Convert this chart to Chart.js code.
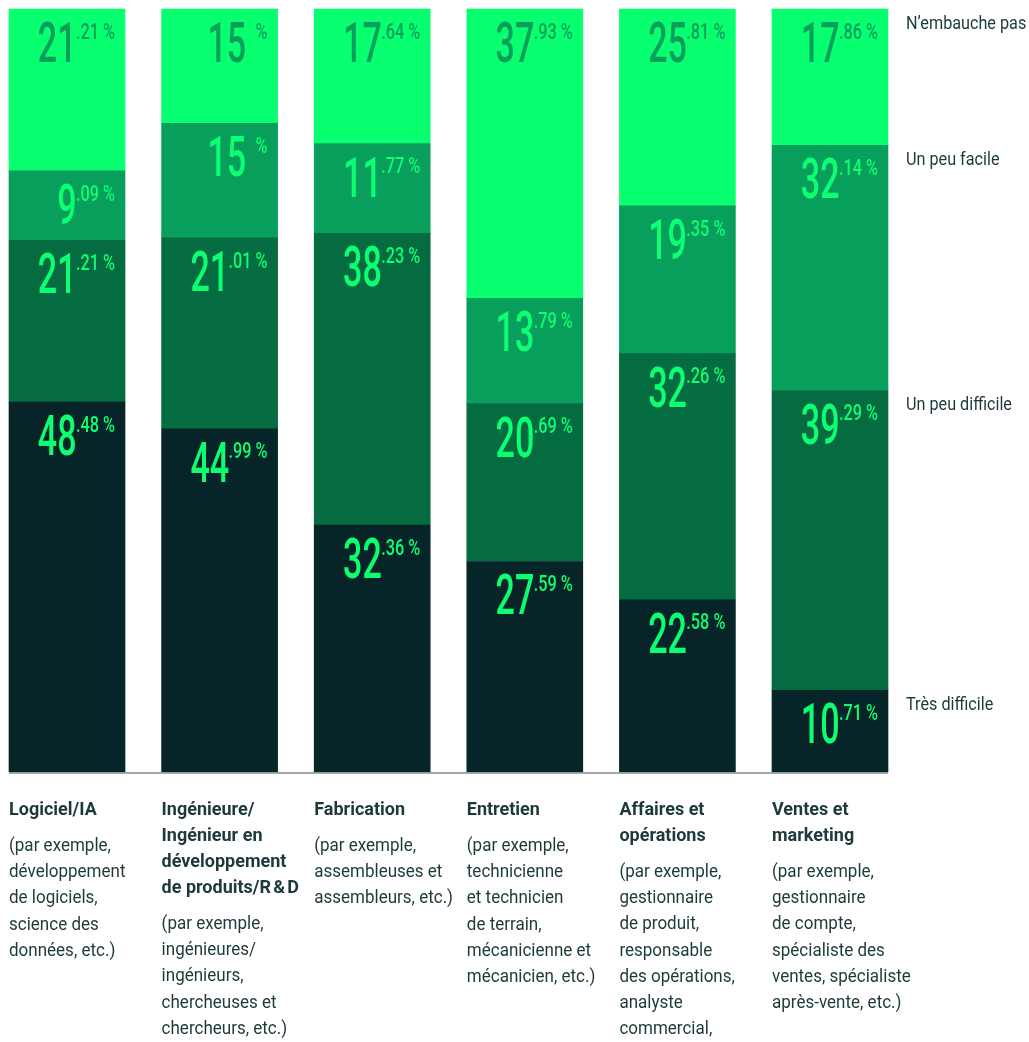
<!DOCTYPE html>
<html lang="fr">
<head>
<meta charset="utf-8">
<title>Difficulté d'embauche par secteur</title>
<script src="https://cdn.jsdelivr.net/npm/chart.js@4/dist/chart.umd.min.js"></script>
<style>
  html, body { margin: 0; padding: 0; background: #ffffff; }
  #boite { width: 1029px; height: 1042px; position: relative; }
</style>
</head>
<body>
<div id="boite"><canvas id="graphique"></canvas></div>
<script>
// catégories (titre en gras + description, déjà coupés en lignes)
const categories = ['Logiciel/IA', 'Ingénierie/R&D', 'Fabrication', 'Entretien', 'Affaires et opérations', 'Ventes et marketing'];
const titres = [
    ['Logiciel/IA'],
    ['Ingénieure/', 'Ingénieur en', 'développement', 'de produits/R\u202F&\u202FD'],
    ['Fabrication'],
    ['Entretien'],
    ['Affaires et', 'opérations'],
    ['Ventes et', 'marketing']
];
const descriptions = [
    ['(par exemple,', 'développement', 'de logiciels,', 'science des', 'données, etc.)'],
    ['(par exemple,', 'ingénieures/', 'ingénieurs,', 'chercheuses et', 'chercheurs, etc.)'],
    ['(par exemple,', 'assembleuses et', 'assembleurs, etc.)'],
    ['(par exemple,', 'technicienne', 'et technicien', 'de terrain,', 'mécanicienne et', 'mécanicien, etc.)'],
    ['(par exemple,', 'gestionnaire', 'de produit,', 'responsable', 'des opérations,', 'analyste', 'commercial,'],
    ['(par exemple,', 'gestionnaire', 'de compte,', 'spécialiste des', 'ventes, spécialiste', 'après-vente, etc.)']
];

// séries (en %), du bas vers le haut
const tresDifficile  = [48.48, 44.99, 32.36, 27.59, 22.58, 10.71];
const unPeuDifficile = [21.21, 25.01, 38.23, 20.69, 32.26, 39.29]; // hauteur dessinée
const unPeuDifficileTexte = [21.21, 21.01, 38.23, 20.69, 32.26, 39.29]; // valeur imprimée sur l'original
const unPeuFacile    = [9.09, 15, 11.77, 13.79, 19.35, 32.14];
const nEmbauchePas   = [21.21, 15, 17.64, 37.93, 25.81, 17.86];

const nomsSeries = ['Très difficile', 'Un peu difficile', 'Un peu facile', 'N\u2019embauche pas'];
const couleurs = ['#072528', '#046c40', '#089e5c', '#08ff6f'];
const couleursTexte = ['#0cff72', '#0cff72', '#0cff72', '#089e5c'];

const sombre = '#1d3939';

// dessine "48" en grand + ".48 %" en exposant, aligné à droite
function dessinerValeur(ctx, valeur, droite, haut, couleur) {
    const ent = Math.floor(valeur + 1e-9);
    const dec = Math.round((valeur - ent) * 100);
    const sup = dec > 0 ? '.' + String(dec).padStart(2, '0') + ' %' : '%';
    ctx.save();
    ctx.fillStyle = couleur;
    ctx.textAlign = 'right';
    ctx.textBaseline = 'alphabetic';

    // exposant
    ctx.save();
    ctx.translate(droite, haut);
    ctx.scale(0.74, 1);
    ctx.font = '500 22px Roboto';
    const wSup = ctx.measureText(sup).width * 0.74;
    ctx.fillText(sup, 0, 15.6);
    ctx.restore();

    // partie entière
    const ecart = dec > 0 ? 0 : 10;
    ctx.save();
    ctx.translate(droite - wSup - ecart, haut);
    ctx.scale(0.62, 1);
    ctx.font = '500 55px Roboto';
    ctx.fillText(String(ent), 1, 39);
    ctx.restore();

    ctx.restore();
}

const pluginEtiquettes = {
    id: 'etiquettes',
    afterDatasetsDraw(chart) {
        const ctx = chart.ctx;
        chart.data.datasets.forEach((ds, i) => {
            const meta = chart.getDatasetMeta(i);
            meta.data.forEach((barre, j) => {
                const p = barre.getProps(['x', 'y', 'base', 'width'], true);
                const haut = Math.min(p.y, p.base);
                const v = ds.texte ? ds.texte[j] : ds.data[j];
                dessinerValeur(ctx, v, p.x + p.width / 2 - 10, haut + 14, couleursTexte[i]);
            });
        });

        // ligne de base
        const m0 = chart.getDatasetMeta(0).data;
        const premier = m0[0].getProps(['x', 'width'], true);
        const dernier = m0[m0.length - 1].getProps(['x', 'width'], true);
        const yBas = chart.scales.y.getPixelForValue(0);
        ctx.save();
        ctx.strokeStyle = '#7d8f8f';
        ctx.lineWidth = 1.5;
        ctx.beginPath();
        ctx.moveTo(premier.x - premier.width / 2, yBas + 1);
        ctx.lineTo(dernier.x + dernier.width / 2, yBas + 1);
        ctx.stroke();
        ctx.restore();

        // légende à droite, alignée sur la dernière barre
        ctx.save();
        ctx.fillStyle = sombre;
        ctx.textBaseline = 'middle';
        ctx.textAlign = 'left';
        chart.data.datasets.forEach((ds, i) => {
            const el = chart.getDatasetMeta(i).data[m0.length - 1];
            const p = el.getProps(['x', 'y', 'base', 'width'], true);
            const haut = Math.min(p.y, p.base);
            ctx.save();
            ctx.translate(p.x + p.width / 2 + 18, haut + 15);
            ctx.scale(0.9, 1);
            ctx.font = '400 18px Roboto';
            ctx.fillText(ds.label, 0, 0);
            ctx.restore();
        });
        ctx.restore();

        // libellés des catégories sous les barres
        ctx.save();
        ctx.fillStyle = sombre;
        ctx.textBaseline = 'middle';
        ctx.textAlign = 'left';
        m0.forEach((barre, j) => {
            const p = barre.getProps(['x', 'width'], true);
            const gauche = p.x - p.width / 2;
            let y = 810;
            ctx.save();
            ctx.translate(gauche, 0);
            ctx.font = '700 18px Roboto';
            titres[j].forEach((l, k) => {
                ctx.fillText(l, 0, y);
                if (k < titres[j].length - 1) y += 26;
            });
            y += 36.5;
            ctx.scale(0.945, 1);
            ctx.font = '400 18px Roboto';
            descriptions[j].forEach(l => {
                ctx.fillText(l, 0, y);
                y += 26.2;
            });
            ctx.restore();
        });
        ctx.restore();
    }
};

const series = [tresDifficile, unPeuDifficile, unPeuFacile, nEmbauchePas];

const config = {
    type: 'bar',
    data: {
        labels: categories,
        datasets: series.map((d, i) => ({
            label: nomsSeries[i],
            data: d,
            texte: i === 1 ? unPeuDifficileTexte : null,
            backgroundColor: couleurs[i],
            borderWidth: 0,
            barThickness: 116,
            clip: false
        }))
    },
    options: {
        responsive: true,
        maintainAspectRatio: false,
        animation: false,
        layout: {
            padding: { left: 67, right: 199, top: 9, bottom: 270 }
        },
        scales: {
            x: { stacked: true, display: false, offset: false },
            y: { stacked: true, display: false, min: 0, max: 100 }
        },
        plugins: {
            legend: { display: false },
            tooltip: { enabled: false }
        }
    },
    plugins: [pluginEtiquettes]
};

document.addEventListener('DOMContentLoaded', function() {
    const ctx = document.getElementById('graphique').getContext('2d');
    new Chart(ctx, config);
});
</script>
</body>
</html>
